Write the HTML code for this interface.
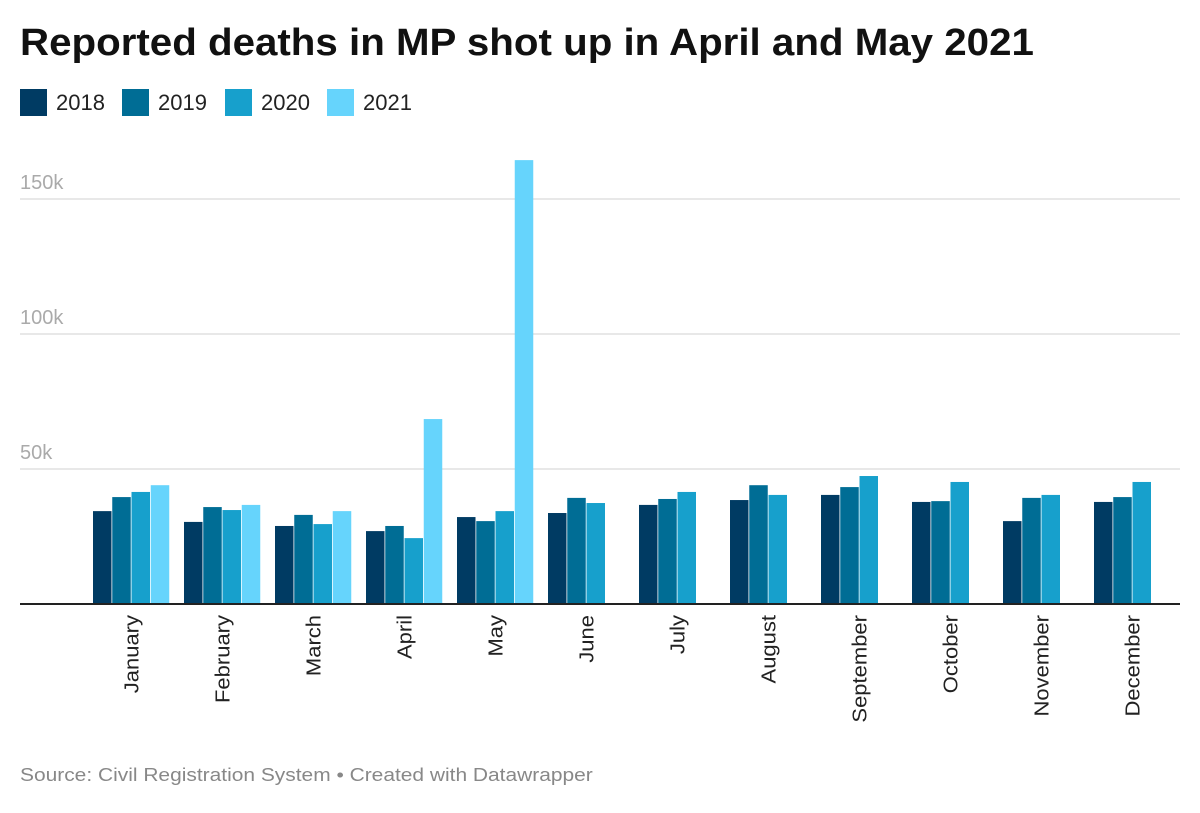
<!DOCTYPE html>
<html><head><meta charset="utf-8"><style>
body{margin:0;background:#fff;font-family:"Liberation Sans",sans-serif;width:1200px;height:813px;overflow:hidden;position:relative}
h1{position:absolute;left:20px;top:22px;margin:0;font-size:38px;font-weight:bold;color:#111;transform:scaleX(1.06);transform-origin:left top;white-space:nowrap}
.leg{position:absolute;top:89px;display:flex;align-items:center;font-size:22px;color:#222}
.sw{width:27px;height:27px;margin-right:9px}
.src{position:absolute;left:20px;top:765px;font-size:18px;color:#888;transform:scaleX(1.163);transform-origin:left top;white-space:nowrap}
</style></head><body>
<h1>Reported deaths in MP shot up in April and May 2021</h1>
<div class="leg" style="left:20px"><div class="sw" style="background:#003b63"></div>2018</div>
<div class="leg" style="left:122px"><div class="sw" style="background:#006d95"></div>2019</div>
<div class="leg" style="left:225px"><div class="sw" style="background:#17a0cc"></div>2020</div>
<div class="leg" style="left:327px"><div class="sw" style="background:#66d4fc"></div>2021</div>
<svg id="chart" width="1200" height="813" style="position:absolute;left:0;top:0"></svg>
<div class="src">Source: Civil Registration System • Created with Datawrapper</div>
<script>
const months=["January","February","March","April","May","June","July","August","September","October","November","December"];
const s2018=[34.4,30.4,28.9,27,32.2,33.7,36.7,38.5,40.4,37.8,30.7,37.8];
const s2019=[39.6,35.9,33,28.9,30.7,39.3,38.9,44,43.3,38.1,39.3,39.6];
const s2020=[41.5,34.8,29.6,24.4,34.4,37.4,41.5,40.4,47.4,45.2,40.4,45.2];
const s2021=[44,36.7,34.4,68.5,164.4,null,null,null,null,null,null,null];
const ticks=[50,100,150];
const tickLabels=["50k","100k","150k"];
const series=[s2018,s2019,s2020,s2021];
const colors=["#003b63","#006d95","#17a0cc","#66d4fc"];
const NS="http://www.w3.org/2000/svg";
const svg=document.getElementById('chart');
const y=v=>604-v*2.7;
const gx=i=>93+i*91;
ticks.forEach((t,i)=>{
  const l=document.createElementNS(NS,'line');
  l.setAttribute('x1',20);l.setAttribute('x2',1180);l.setAttribute('y1',y(t));l.setAttribute('y2',y(t));
  l.setAttribute('stroke','#e0e0e0');l.setAttribute('stroke-width',1.5);
  
  
  svg.appendChild(l);
  const tx=document.createElementNS(NS,'text');
  tx.setAttribute('x',20);tx.setAttribute('y',y(t)-10);tx.setAttribute('font-size',20);tx.setAttribute('fill','#aaa');
  tx.textContent=tickLabels[i];
  
  
  svg.appendChild(tx);
});
months.forEach((m,i)=>{
  series.forEach((s,k)=>{
    if(s[i]==null)return;
    const r=document.createElementNS(NS,'rect');
    r.setAttribute('x',gx(i)+k*19.25);r.setAttribute('width',18.5);
    r.setAttribute('y',y(s[i]));r.setAttribute('height',604-y(s[i]));
    r.setAttribute('fill',colors[k]);
    
    
    svg.appendChild(r);
  });
  const cx=gx(i)+38.5+7;
  const t=document.createElementNS(NS,'text');
  t.setAttribute('transform',`translate(${cx},615) rotate(-90) scale(1.1,1)`);
  t.setAttribute('text-anchor','end');t.setAttribute('font-size',20);t.setAttribute('fill','#222');
  t.textContent=m;
  
  
  svg.appendChild(t);
});
const b=document.createElementNS(NS,'line');
b.setAttribute('x1',20);b.setAttribute('x2',1180);b.setAttribute('y1',604);b.setAttribute('y2',604);
b.setAttribute('stroke','#222');b.setAttribute('stroke-width',2);


svg.appendChild(b);
</script>
</body></html>
